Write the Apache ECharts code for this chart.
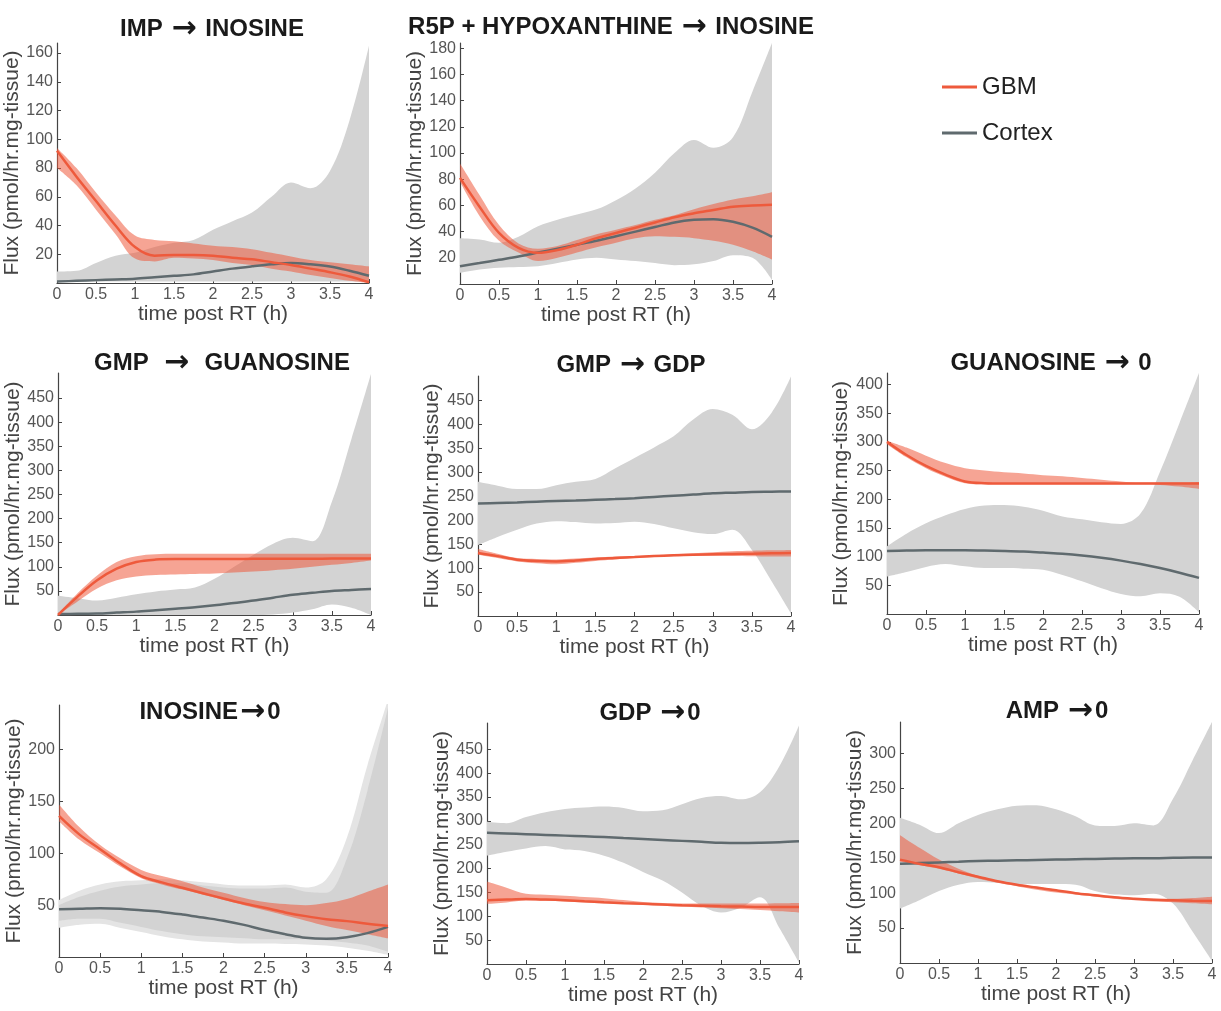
<!DOCTYPE html>
<html>
<head>
<meta charset="utf-8">
<script src="https://cdn.jsdelivr.net/npm/echarts@6/dist/echarts.min.js"></script>
<style>
  html, body { margin: 0; padding: 0; background: #fff; }
  #chart { width: 1221px; height: 1011px; }
</style>
</head>
<body>
<div id="chart"></div>
<script>
// time points (h), shared by every panel
const times = ['0','0.25','0.5','0.75','1','1.25','1.5','1.75','2','2.25','2.5','2.75','3','3.25','3.5','3.75','4'];

// IMP -> INOSINE
const impGbm   = [92, 74, 57, 40, 25, 19, 19.5, 19.5, 19, 17.5, 16.5, 14.5, 12.5, 10, 7.5, 4.5, 0.5];
const impGbmLo = [80, 68, 51, 34, 17, 15, 17.5, 17, 16, 14, 12.5, 10, 8, 5.5, 3.5, 1.5, 0];
const impGbmHi = [94, 80, 63, 47, 33, 30, 29, 27.5, 26, 25, 23.5, 21, 18.5, 16, 14.5, 13, 11.5];
const impCtx   = [1, 1.5, 2, 2.5, 3, 4, 5, 6, 8, 10, 11.6, 13, 13.9, 13, 11.5, 8.5, 5];
const impCtxLo = [1, 1, 1, 1, 1, 1, 1, 1, 1, 1, 1, 1, 1, 1, 1, 1, 0.5];
const impCtxHi = [8, 8.5, 14, 19, 21, 25, 28, 30, 37, 43, 49, 60, 70, 66, 78, 113, 165];

// R5P + HYPOXANTHINE -> INOSINE
const r5pGbm   = [81, 59, 39, 27.6, 23.8, 26, 30, 35, 39, 43, 47, 51, 54, 56.5, 59, 60, 60.6];
const r5pGbmLo = [78, 52, 33, 24, 17.5, 20, 24, 28, 31.5, 35, 36.5, 36, 35, 33, 30, 25, 18.7];
const r5pGbmHi = [92, 68, 45, 31, 27, 29, 33.5, 38, 41.5, 45, 49, 52.5, 57, 61, 64.5, 67, 70];
const r5pCtx   = [13.6, 16, 18.5, 21, 24, 27, 30, 33, 36.5, 40, 43.5, 47, 49, 49.5, 47.5, 43, 36];
const r5pCtxLo = [8.5, 11, 12.4, 13, 13.6, 16, 18.7, 20, 18.7, 17.5, 16, 14.4, 15, 17.5, 22, 20, 3];
const r5pCtxHi = [35, 34, 31.5, 36, 44, 49, 53, 57, 64, 73, 85, 100, 110, 104, 112, 147, 184];

// GMP -> GUANOSINE
const gmpGuoGbm   = [0, 38, 72, 96, 110, 115, 116, 116, 116, 116, 116.5, 116.5, 116.5, 116.5, 117, 117, 117];
const gmpGuoGbmLo = [0, 28, 55, 72, 80, 83, 84, 85, 86, 88, 90, 93, 96, 100, 104, 108, 113];
const gmpGuoGbmHi = [2, 45, 82, 110, 122, 126, 127, 127, 127, 127, 127, 127, 127, 127, 127, 127, 127];
const gmpGuoCtx   = [2, 2.5, 3, 5, 7, 10, 13, 16, 20, 25, 30, 36, 42, 46, 50, 52, 54];
const gmpGuoCtxLo = [0, 0, 0, 0, 0, 0, 0, 0, 0, 0, 0, 1, 5, 12, 22, 15, 0];
const gmpGuoCtxHi = [40, 35, 30, 36, 43, 49, 53, 57, 75, 100, 125, 148, 160, 153, 235, 365, 500];

// GMP -> GDP
const gmpGdpGbm   = [131.5, 125, 117.6, 115, 114, 116, 119, 121, 123, 125, 126.6, 128, 129, 129.5, 130, 131, 131.5];
const gmpGdpGbmLo = [128, 121, 114, 110, 108, 111, 115, 118, 121, 123, 124.5, 125, 125.5, 125, 124.5, 124, 124];
const gmpGdpGbmHi = [140, 130, 121, 119, 118, 120, 122, 124, 125, 127, 129, 131, 133, 135, 136, 137, 138];
const gmpGdpCtx   = [235, 236, 237, 238.5, 240, 241, 242.5, 244, 246, 248.5, 251, 253.5, 256, 257.5, 259, 259.5, 260];
const gmpGdpCtxLo = [148, 165, 180, 193, 198, 196, 193, 194, 197, 192, 183, 175, 171, 180, 138, 73, 5];
const gmpGdpCtxHi = [280, 272, 265, 265, 273, 280, 286, 308, 330, 352, 375, 410, 432, 420, 390, 424, 500];

// GUANOSINE -> 0
const guoGbm   = [300, 277, 258, 243, 231, 228, 227.5, 227.5, 227.5, 227.5, 227.5, 227.5, 227.5, 227.5, 227.5, 227.5, 227.5];
const guoGbmLo = [296, 273, 254, 239, 228, 226, 226, 226, 226, 226, 226, 226, 226, 226, 225, 222, 218];
const guoGbmHi = [302, 290, 276, 263, 254, 250, 247, 245, 242, 240, 237, 234, 231, 229, 229, 229, 230];
const guoCtx   = [110, 110.5, 111, 111, 111, 110.5, 110, 109, 107, 105, 102, 98, 93, 87, 80, 72, 63];
const guoCtxLo = [65, 73, 82, 87, 83, 80, 80, 79, 77, 68, 57, 45, 35, 31, 36, 30, 3];
const guoCtxHi = [118, 140, 158, 172, 183, 189, 190, 187, 180, 170, 165, 160, 157, 175, 248, 333, 420];

// INOSINE -> 0 (cortex has an extra, lighter outer band)
const inoGbm    = [136, 118, 104, 90, 78, 72, 66.7, 61.5, 56.4, 51.5, 47.4, 43, 39.4, 36.5, 34.6, 32, 29.8];
const inoGbmLo  = [131, 113, 100, 87, 76, 70, 65, 60, 55, 50, 45, 40, 35, 30, 26, 22, 18];
const inoGbmHi  = [147, 125, 108, 95, 84, 78, 73, 67, 62, 57, 53, 51, 50, 52, 56, 63, 70];
const inoCtx    = [46, 46.5, 47, 46.5, 45, 43.5, 41, 38, 35, 31, 26, 22, 18.5, 17.5, 19, 23, 29];
const inoCtxLo  = [35, 37, 37, 33, 29, 25, 22, 20, 19, 18, 17, 17, 17, 16, 14, 11, 5];
const inoCtxHi  = [50, 58, 64, 68, 70, 71, 71, 69, 67, 66, 66, 67, 63, 62, 95, 160, 240];
const inoCtxLo2 = [28, 31, 32, 28, 24, 20, 17, 15, 14, 13, 13, 12.5, 12, 11, 9, 6, 2];
const inoCtxHi2 = [55, 64, 70, 73, 74, 75, 74, 72, 70, 69, 69, 70, 67, 75, 115, 185, 248];

// GDP -> 0
const gdpGbm   = [133.6, 135, 136, 135, 133.6, 131.5, 129.4, 127.5, 126, 124.5, 123, 122, 121, 120.5, 119.7, 119.7, 119.7];
const gdpGbmLo = [126, 129, 133, 132.5, 131, 129, 127, 125.5, 124, 122, 120, 118.5, 117, 115, 113, 110.5, 108];
const gdpGbmHi = [173, 160, 147, 145, 143, 140.5, 138, 134, 130, 128, 127, 127, 127, 127, 127, 127.5, 128];
const gdpCtx   = [275, 273.5, 272, 270.5, 269, 267.5, 266, 264, 262, 260, 258, 256, 254, 253.5, 254, 255, 257];
const gdpCtxLo = [227, 235, 242, 247, 240, 237, 227, 212, 193, 175, 150, 122, 108, 118, 140, 75, 3];
const gdpCtxHi = [298, 295, 308, 318, 325, 328, 330, 327, 320, 322, 335, 348, 352, 345, 360, 415, 500];

// AMP -> 0
const ampGbm   = [148, 142, 137, 130, 123.5, 117, 112, 108, 104, 100, 97, 94, 92, 90.5, 89.7, 89, 88.7];
const ampGbmLo = [145, 140, 135, 128, 121, 115, 110, 105, 101, 98, 95, 92, 90, 88, 87, 85.5, 84];
const ampGbmHi = [183, 165, 148, 135, 125, 118, 113, 109, 105, 101, 98, 95, 93, 92, 92, 93, 95];
const ampCtx   = [142, 143, 144, 145, 146, 146.5, 147, 147.5, 148, 148.5, 149, 149.5, 150, 150, 150.5, 151, 151];
const ampCtxLo = [78, 90, 103, 112, 116, 115, 113, 113, 113, 112, 103, 98, 97, 99, 85, 45, 3];
const ampCtxHi = [208, 198, 186, 200, 212, 220, 225, 226, 220, 210, 197, 196, 200, 197, 235, 290, 345];

// y tick labels
const ticks20to160 = [20, 40, 60, 80, 100, 120, 140, 160];
const ticks20to180 = [20, 40, 60, 80, 100, 120, 140, 160, 180];
const ticks50to450 = [50, 100, 150, 200, 250, 300, 350, 400, 450];
const ticks50to400 = [50, 100, 150, 200, 250, 300, 350, 400];
const ticks50to200 = [50, 100, 150, 200];
const ticks50to300 = [50, 100, 150, 200, 250, 300];

const FONT = 'Liberation Sans, Arial, Helvetica, sans-serif';
const RED = '#ee5a3c';
const RED_BAND = 'rgba(238,90,60,0.55)';
const GREY = '#5f6a6e';
const GREY_BAND = '#d3d3d3';

// layout of each panel: grid box in px, title centre, y range, name gap
const panels = [
  { title: 'IMP {arr|\u2192} INOSINE', tx: 212, ty: 28, box: [57, 43, 312, 240], ymax: 167, ticks: ticks20to160, gap: 33,
    gbm: impGbm, gLo: impGbmLo, gHi: impGbmHi, ctx: impCtx, cLo: impCtxLo, cHi: impCtxHi },
  { title: 'R5P + HYPOXANTHINE {arr|\u2192} INOSINE', tx: 611, ty: 26, box: [460, 43, 312, 241], ymax: 184, ticks: ticks20to180, gap: 32,
    gbm: r5pGbm, gLo: r5pGbmLo, gHi: r5pGbmHi, ctx: r5pCtx, cLo: r5pCtxLo, cHi: r5pCtxHi },
  { title: 'GMP  {arr|\u2192}  GUANOSINE', tx: 222, ty: 362, box: [58, 373, 313, 242], ymax: 502, ticks: ticks50to450, gap: 31,
    gbm: gmpGuoGbm, gLo: gmpGuoGbmLo, gHi: gmpGuoGbmHi, ctx: gmpGuoCtx, cLo: gmpGuoCtxLo, cHi: gmpGuoCtxHi },
  { title: 'GMP {arr|\u2192} GDP', tx: 631, ty: 364, box: [478, 376, 313, 240], ymax: 501, ticks: ticks50to450, gap: 35,
    gbm: gmpGdpGbm, gLo: gmpGdpGbmLo, gHi: gmpGdpGbmHi, ctx: gmpGdpCtx, cLo: gmpGdpCtxLo, cHi: gmpGdpCtxHi },
  { title: 'GUANOSINE {arr|\u2192} 0', tx: 1051, ty: 362, box: [887, 373, 312, 241], ymax: 420, ticks: ticks50to400, gap: 35,
    gbm: guoGbm, gLo: guoGbmLo, gHi: guoGbmHi, ctx: guoCtx, cLo: guoCtxLo, cHi: guoCtxHi },
  { title: 'INOSINE{arr|\u2192}0', tx: 210, ty: 711, box: [59, 705, 329, 252], ymax: 243, ticks: ticks50to200, gap: 32,
    gbm: inoGbm, gLo: inoGbmLo, gHi: inoGbmHi, ctx: inoCtx, cLo: inoCtxLo, cHi: inoCtxHi, cLo2: inoCtxLo2, cHi2: inoCtxHi2 },
  { title: 'GDP {arr|\u2192}0', tx: 650, ty: 712, box: [487, 723, 312, 241], ymax: 505, ticks: ticks50to450, gap: 34,
    gbm: gdpGbm, gLo: gdpGbmLo, gHi: gdpGbmHi, ctx: gdpCtx, cLo: gdpCtxLo, cHi: gdpCtxHi },
  { title: 'AMP {arr|\u2192}0', tx: 1057, ty: 710, box: [900, 722, 312, 241], ymax: 345, ticks: ticks50to300, gap: 32,
    gbm: ampGbm, gLo: ampGbmLo, gHi: ampGbmHi, ctx: ampCtx, cLo: ampCtxLo, cHi: ampCtxHi }
];

const SMOOTH = 0.35;

// band = invisible lower line + stacked (hi - lo) area on top of it
function band(i, key, lo, hi, color) {
  const stack = key + i;
  return [
    {
      name: key + '-lo', type: 'line', xAxisIndex: i, yAxisIndex: i, stack: stack,
      data: lo, smooth: SMOOTH, symbol: 'none', silent: true,
      lineStyle: { opacity: 0 }
    },
    {
      name: key + '-band', type: 'line', xAxisIndex: i, yAxisIndex: i, stack: stack,
      data: hi.map((v, k) => v - lo[k]), smooth: SMOOTH, symbol: 'none', silent: true,
      lineStyle: { opacity: 0 },
      areaStyle: { color: color, opacity: 1 }
    }
  ];
}

const grid = [], xAxis = [], yAxis = [], title = [], series = [];

panels.forEach((p, i) => {
  grid.push({ left: p.box[0], top: p.box[1], width: p.box[2], height: p.box[3], containLabel: false });

  title.push({
    text: p.title, left: p.tx, top: p.ty - 14, textAlign: 'center', padding: 0,
    textStyle: {
      fontFamily: FONT, fontSize: 24, fontWeight: 'bold', color: '#1a1a1a',
      rich: { arr: { fontFamily: 'DejaVu Sans', fontSize: 30, fontWeight: 'bold', color: '#1a1a1a', padding: [0, 2, 0, 2] } }
    }
  });

  xAxis.push({
    type: 'category', gridIndex: i, data: times, boundaryGap: false,
    name: 'time post RT (h)', nameLocation: 'middle', nameGap: 17,
    nameTextStyle: { fontFamily: FONT, fontSize: 21, color: '#444' },
    axisLine: { lineStyle: { color: '#444', width: 1.2 } },
    axisTick: { inside: true, length: 4, interval: 1, lineStyle: { color: '#444' } },
    axisLabel: { interval: 1, margin: 4, fontFamily: FONT, fontSize: 16, color: '#555' },
    splitLine: { show: false }
  });

  yAxis.push({
    type: 'value', gridIndex: i, min: 0, max: p.ymax,
    name: 'Flux (pmol/hr.mg-tissue)', nameLocation: 'middle', nameGap: p.gap, nameRotate: 90,
    nameTextStyle: { fontFamily: FONT, fontSize: 21, color: '#444' },
    axisLine: { show: true, lineStyle: { color: '#444', width: 1.2 } },
    axisTick: { show: true, inside: true, length: 4, customValues: p.ticks, lineStyle: { color: '#444' } },
    axisLabel: { margin: 4, customValues: p.ticks, fontFamily: FONT, fontSize: 16, color: '#555' },
    splitLine: { show: false }
  });

  if (p.cLo2) series.push(...band(i, 'ctxOuter', p.cLo2, p.cHi2, '#e4e4e4'));
  series.push(...band(i, 'ctx', p.cLo, p.cHi, GREY_BAND));
  series.push({
    name: 'Cortex', type: 'line', xAxisIndex: i, yAxisIndex: i, data: p.ctx,
    smooth: SMOOTH, symbol: 'none', lineStyle: { color: GREY, width: 2.5 }, itemStyle: { color: GREY }
  });
  series.push(...band(i, 'gbm', p.gLo, p.gHi, RED_BAND));
  series.push({
    name: 'GBM', type: 'line', xAxisIndex: i, yAxisIndex: i, data: p.gbm,
    smooth: SMOOTH, symbol: 'none', lineStyle: { color: RED, width: 2.5 }, itemStyle: { color: RED }
  });
});

const chart = echarts.init(document.getElementById('chart'));
chart.setOption({
  animation: false,
  backgroundColor: '#fff',
  title: title,
  legend: {
    data: [{ name: 'GBM', icon: 'rect' }, { name: 'Cortex', icon: 'rect' }],
    orient: 'vertical', left: 942, top: 75, padding: 0,
    itemWidth: 35, itemHeight: 3, itemGap: 22,
    textStyle: { fontFamily: FONT, fontSize: 24, color: '#222', padding: [0, 0, 0, 0] }
  },
  grid: grid,
  xAxis: xAxis,
  yAxis: yAxis,
  series: series
});
</script>
</body>
</html>
